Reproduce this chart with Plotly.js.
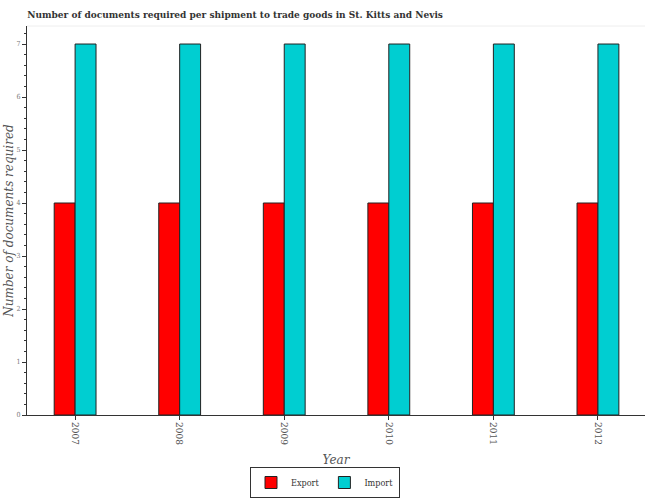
<!DOCTYPE html>
<html>
<head>
<meta charset="utf-8">
<script src="https://cdn.plot.ly/plotly-3.0.1.min.js"></script>
<style>body{margin:0;padding:0;background:#fff;}#chart{width:650px;height:500px;}</style>
</head>
<body>
<div id="chart"></div>
<script>
const years = ["2007", "2008", "2009", "2010", "2011", "2012"];
const exportDocs = [4, 4, 4, 4, 4, 4];
const importDocs = [7, 7, 7, 7, 7, 7];
const seriesNames = ["Export", "Import"];
const serif = "DejaVu Serif Condensed, DejaVu Serif, serif";

const traces = [
  {type: "bar", name: seriesNames[0], x: years, y: exportDocs,
   marker: {color: "#ff0000", line: {color: "#222", width: 1}}},
  {type: "bar", name: seriesNames[1], x: years, y: importDocs,
   marker: {color: "#00ced1", line: {color: "#222", width: 1}}}
];

const layout = {
  width: 650, height: 500,
  margin: {l: 27, r: 5, t: 26, b: 85},
  paper_bgcolor: "#fff", plot_bgcolor: "#fff",
  barmode: "group", bargap: 0.6, bargroupgap: 0,
  title: {text: "<b>Number of documents required per shipment to trade goods in St. Kitts and Nevis</b>",
          x: 0.042, xanchor: "left", y: 0.972, yanchor: "middle",
          font: {family: serif, size: 10, color: "#333"}},
  xaxis: {type: "category", range: [-0.46, 5.45],
          tickangle: 90, ticks: "outside", ticklen: 4, tickcolor: "#333",
          showline: true, linecolor: "#333", linewidth: 1, mirror: false,
          showgrid: false, zeroline: false,
          tickfont: {family: serif, size: 10, color: "#555"},
          title: {text: "<i>Year</i>", font: {family: "DejaVu Serif, serif", size: 12, color: "#555"}, standoff: 12}},
  yaxis: {range: [0, 7.34], dtick: 1, ticks: "outside", ticklen: 4, tickcolor: "#333",
          minor: {dtick: 0.2, ticks: "outside", ticklen: 2, tickcolor: "#333"},
          showline: true, linecolor: "#333", linewidth: 1,
          showgrid: false, zeroline: false,
          tickfont: {family: serif, size: 7, color: "#777"},
          title: {text: "<i>Number of documents required</i>", font: {family: "DejaVu Serif, serif", size: 12, color: "#555"}, standoff: 0}},
  showlegend: true,
  legend: {orientation: "h", x: 0.5, xanchor: "center", yref: "container", y: 0.066, yanchor: "top",
           xref: "container",
           bordercolor: "#333", borderwidth: 1, bgcolor: "#fff",
           itemwidth: 30,
           font: {family: serif, size: 9, color: "#333"}, traceorder: "normal"},
  shapes: [{type: "line", xref: "paper", yref: "paper", x0: 0, x1: 1, y0: 1, y1: 1,
            line: {color: "#eee", width: 1}}]
};

Plotly.newPlot("chart", traces, layout, {displayModeBar: false, responsive: false});
</script>
</body>
</html>
